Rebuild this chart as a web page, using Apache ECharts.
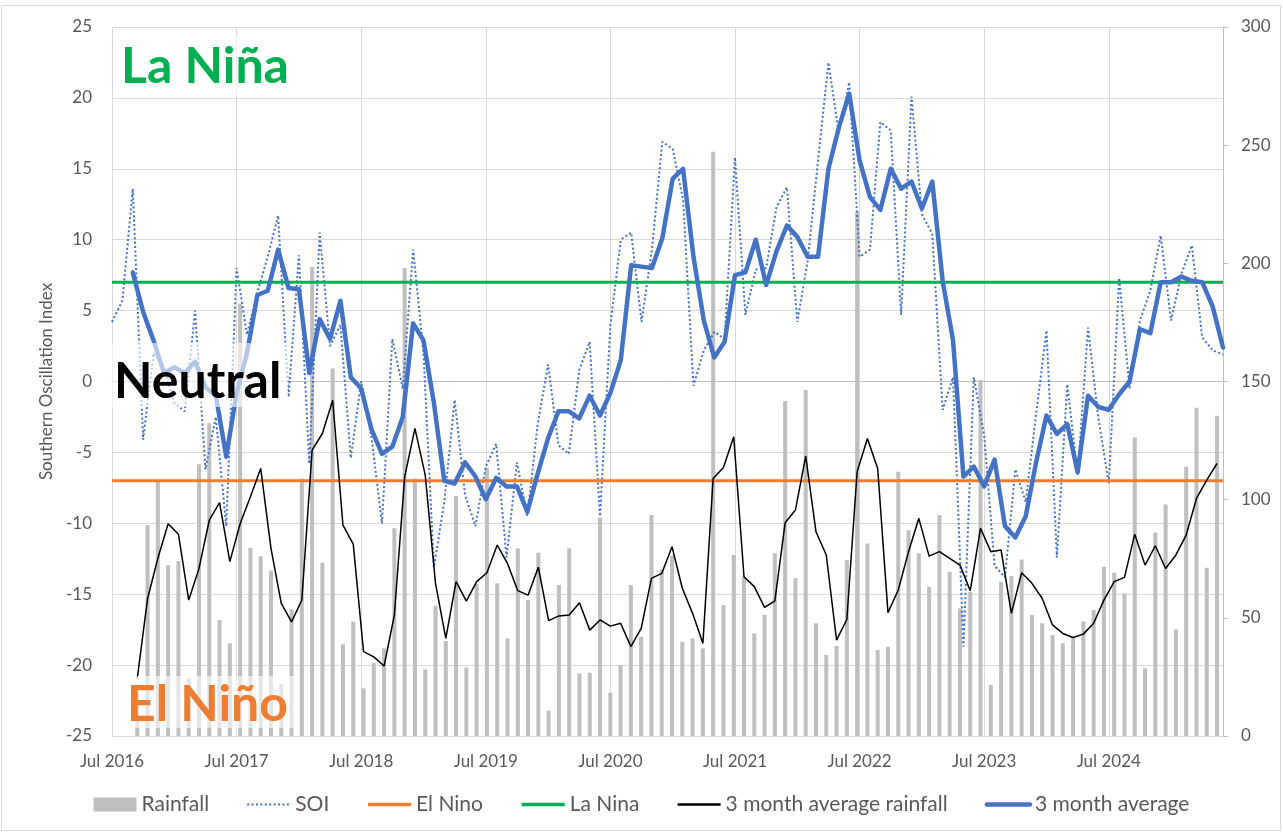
<!DOCTYPE html>
<html>
<head>
<meta charset="utf-8">
<title>Southern Oscillation Index and rainfall</title>
<script src="https://cdn.jsdelivr.net/npm/echarts@6/dist/echarts.min.js"></script>
<style>
  html, body { margin: 0; padding: 0; background: #ffffff; }
  #chart { width: 1283px; height: 833px; }
</style>
</head>
<body>
<div id="chart"></div>
<script>
// Monthly SOI, Jul 2016 - Jun 2025
const soiStart = { year: 2016, month: 6 };   // July (0-based month)
const soiMonthCount = 108;

// Monthly rainfall (mm), Sep 2016 - Jun 2025, on the secondary axis
const rainStart = { year: 2016, month: 8 };  // September
const rainMonthCount = 106;

const monthNames = ['Jan','Feb','Mar','Apr','May','Jun','Jul','Aug','Sep','Oct','Nov','Dec'];

function monthLabels(start, count) {
  const out = [];
  for (let k = 0; k < count; k++) {
    const m = start.month + k;
    out.push(monthNames[m % 12] + ' ' + (start.year + Math.floor(m / 12)));
  }
  return out;
}

const soiMonths = monthLabels(soiStart, soiMonthCount);
const rainMonths = monthLabels(rainStart, rainMonthCount);

const soi = [
  4.2, 5.7, 13.6, -4.1, 2.0, 1.0, -1.5, -2.1, 5.0, -6.2,
  -2.5, -10.2, 8.0, 3.3, 6.3, 8.8, 11.7, -1.1, 8.9, -5.8,
  10.5, 2.5, 4.0, -5.4, 0.0, -4.0, -10.0, 3.0, -0.5, 9.3,
  2.0, -13.1, -8.5, -1.3, -8.0, -10.2, -6.0, -4.4, -12.4, -5.7,
  -9.5, -3.0, 1.2, -4.5, -5.1, 0.8, 2.8, -9.5, 4.0, 10.0,
  10.5, 4.2, 9.3, 16.9, 16.4, 12.8, -0.3, 2.2, 3.5, 3.0,
  15.8, 4.7, 7.9, 8.0, 12.3, 13.7, 4.2, 8.5, 15.6, 22.5,
  17.5, 21.1, 8.8, 9.3, 18.3, 17.7, 4.7, 20.1, 11.8, 10.4,
  -2.0, 0.3, -18.7, 0.3, -3.8, -13.0, -13.8, -6.2, -8.5, -2.3,
  3.6, -12.4, -0.2, -6.6, 3.8, -2.6, -7.2, 7.3, -0.5, 4.3,
  6.4, 10.3, 4.3, 7.6, 9.6, 3.1, 2.2, 1.9
];

const soi3Month = [
  null, null, 7.7, 4.9, 2.9, 0.6, 1.0, 0.6, 1.4, -0.4,
  -1.0, -5.3, -0.8, 2.0, 6.1, 6.4, 9.3, 6.6, 6.5, 0.6,
  4.4, 3.0, 5.7, 0.3, -0.5, -3.4, -5.1, -4.6, -2.5, 4.1,
  2.9, -1.5, -7.0, -7.2, -5.7, -6.7, -8.3, -6.8, -7.4, -7.4,
  -9.2, -6.5, -4.0, -2.1, -2.1, -2.6, -1.0, -2.4, -0.8, 1.5,
  8.2, 8.1, 8.0, 10.1, 14.3, 15.0, 8.8, 4.3, 1.7, 2.8,
  7.5, 7.7, 10.0, 6.8, 9.2, 11.0, 10.2, 8.8, 8.8, 15.0,
  17.9, 20.3, 15.6, 13.0, 12.1, 15.0, 13.6, 14.1, 12.2, 14.1,
  7.1, 2.9, -6.7, -6.0, -7.4, -5.5, -10.2, -11.0, -9.5, -5.7,
  -2.4, -3.7, -3.0, -6.4, -1.0, -1.8, -2.0, -0.9, 0.0, 3.7,
  3.4, 7.0, 7.0, 7.4, 7.1, 7.0, 5.3, 2.4
];

const rainfall = [
  18, 89.3, 107.6, 72.3, 74.0, 24.4, 115, 132.3, 49.1, 39.2,
  183, 79.7, 76.1, 70, 22, 53.6, 109, 198.5, 73.3, 155.5,
  38.8, 48.4, 20.2, 31.0, 37.1, 87.9, 198, 109.0, 28.2, 55.1,
  40.2, 101.5, 29.0, 64.3, 113.6, 64.6, 41.3, 79.4, 57.5, 77.5,
  10.7, 63.9, 79.4, 26.5, 26.8, 92.5, 18.3, 30.0, 63.9, 42.0,
  93.5, 70.5, 76.3, 39.9, 41.3, 37.1, 247.2, 55.4, 76.6, 67.4,
  43.4, 51.2, 77.3, 141.8, 66.7, 146.4, 47.7, 34.3, 38.1, 74.5,
  222, 81.5, 36.4, 37.8, 111.8, 87.1, 77.3, 63.2, 93.5, 69.5,
  54, 61, 150.6, 21.6, 65.3, 67.7, 74.7, 51.2, 47.7, 42.7,
  39.2, 42.0, 48.4, 53.3, 71.6, 69.1, 60.4, 126.3, 28.6, 86.0,
  98.0, 45.1, 113.9, 138.9, 71.2, 135.5
];

const rainfall3Month = [
  24.4, 58.2, 75.2, 89.8, 85.4, 57.5, 70.9, 91.3, 98.7, 73.8,
  89.8, 101.2, 113.2, 79.4, 56.1, 48.3, 57.5, 121.0, 128.0, 142.1,
  89.2, 81.2, 35.7, 33.5, 29.6, 51.2, 109.7, 130.2, 110.4, 64.6,
  41.3, 65.3, 57.1, 65.3, 69.1, 80.8, 73.0, 61.5, 59.6, 71.4,
  48.8, 50.8, 51.2, 56.4, 44.8, 49.1, 46.5, 47.7, 37.8, 45.5,
  66.7, 68.8, 80.1, 62.5, 51.9, 39.2, 109.0, 113.6, 126.6, 67.4,
  63.2, 54.4, 57.2, 90.2, 95.6, 118.4, 86.4, 76.6, 40.6, 49.3,
  111.8, 125.9, 113.2, 52.2, 61.8, 78.0, 92.1, 76.1, 78.0, 75.2,
  72.3, 61.5, 87.9, 78.0, 78.7, 51.9, 69.1, 64.6, 58.2, 47.0,
  43.4, 41.7, 43.1, 47.7, 57.5, 65.3, 67.1, 85.4, 72.3, 80.5,
  70.9, 76.6, 85.0, 100.5, 108.3, 115.3
];

// SOI thresholds
const elNinoThreshold = -7;
const laNinaThreshold = 7;

// Axis tick settings
const soiAxis = { min: -25, max: 25, interval: 5 };
const rainAxis = { min: 0, max: 300, interval: 50 };
const yearLabelEvery = 12;

const FONT = 'Lato, "Open Sans", sans-serif';
const TEXT_GREY = '#595959';
const GRID_GREY = '#D9D9D9';

const chart = echarts.init(document.getElementById('chart'), null, { renderer: 'canvas' });

const rainPoints = rainfall.map((v, j) => [j, v]);
const rainAvgPoints = rainfall3Month.map((v, j) => [j, v]);
const firstMonth = soiMonths[0];
const lastMonth = soiMonths[soiMonths.length - 1];

// legend keys for line series: line only, no marker
const lineKey = (name, width) => ({
  name,
  lineStyle: { width },
  itemStyle: { opacity: 0, color: 'rgba(0,0,0,0)', borderWidth: 0 }
});

const option = {
  animation: false,
  backgroundColor: '#ffffff',
  textStyle: { fontFamily: FONT },
  grid: { left: 112, right: 60, top: 27, bottom: 97, containLabel: false },
  legend: {
    bottom: 13,
    left: 'center',
    itemWidth: 43,
    itemHeight: 14,
    itemGap: 37,
    textStyle: { color: TEXT_GREY, fontSize: 21, fontFamily: FONT },
    data: [
      { name: 'Rainfall', icon: 'rect' },
      lineKey('SOI', 2),
      lineKey('El Nino', 3.5),
      lineKey('La Nina', 3.5),
      lineKey('3 month average rainfall', 2.5),
      lineKey('3 month average', 4.5)
    ]
  },
  xAxis: [
    {
      type: 'category',
      data: soiMonths,
      boundaryGap: false,
      axisLine: { show: true, lineStyle: { color: '#BFBFBF', width: 1 } },
      axisTick: { show: false },
      axisLabel: {
        interval: yearLabelEvery - 1,
        color: TEXT_GREY, fontSize: 17, margin: 17, fontFamily: FONT
      },
      splitLine: { show: true, interval: yearLabelEvery - 1, lineStyle: { color: GRID_GREY, width: 1 } }
    },
    {
      // rainfall months on their own horizontal scale
      type: 'value',
      show: false,
      min: -2.46,
      max: 105.58,
      splitLine: { show: false }
    }
  ],
  yAxis: [
    {
      type: 'value',
      min: soiAxis.min, max: soiAxis.max, interval: soiAxis.interval,
      name: 'Southern Oscillation Index',
      nameLocation: 'middle',
      nameGap: 52,
      nameTextStyle: { color: TEXT_GREY, fontSize: 17, fontFamily: FONT },
      axisLine: { show: false },
      axisTick: { show: false },
      axisLabel: { color: TEXT_GREY, fontSize: 17, margin: 20, fontFamily: FONT },
      splitLine: { show: true, lineStyle: { color: GRID_GREY, width: 1 } }
    },
    {
      type: 'value',
      position: 'right',
      min: rainAxis.min, max: rainAxis.max, interval: rainAxis.interval,
      axisLine: { show: true, lineStyle: { color: '#BFBFBF', width: 1 } },
      axisTick: { show: true, inside: false, length: 5, lineStyle: { color: '#BFBFBF' } },
      axisLabel: { color: TEXT_GREY, fontSize: 17, margin: 18, fontFamily: FONT },
      splitLine: { show: false }
    }
  ],
  series: [
    {
      name: 'Rainfall',
      type: 'bar',
      xAxisIndex: 1,
      yAxisIndex: 1,
      barWidth: 4,
      itemStyle: { color: '#BFBFBF' },
      data: rainPoints,
      z: 1
    },
    {
      name: 'SOI',
      type: 'line',
      xAxisIndex: 0,
      yAxisIndex: 0,
      symbol: 'none',
      lineStyle: { color: '#4472C4', width: 2, type: [2, 2.4] },
      itemStyle: { color: '#4472C4' },
      data: soi,
      z: 2
    },
    {
      name: 'El Nino',
      type: 'line',
      xAxisIndex: 0,
      yAxisIndex: 0,
      symbol: 'none',
      lineStyle: { color: '#ED7D31', width: 3 },
      itemStyle: { color: '#ED7D31' },
      data: [[firstMonth, elNinoThreshold], [lastMonth, elNinoThreshold]],
      z: 3
    },
    {
      name: 'La Nina',
      type: 'line',
      xAxisIndex: 0,
      yAxisIndex: 0,
      symbol: 'none',
      lineStyle: { color: '#00B050', width: 3 },
      itemStyle: { color: '#00B050' },
      data: [[firstMonth, laNinaThreshold], [lastMonth, laNinaThreshold]],
      z: 3
    },
    {
      name: '3 month average rainfall',
      type: 'line',
      xAxisIndex: 1,
      yAxisIndex: 1,
      symbol: 'none',
      lineStyle: { color: '#000000', width: 1.5 },
      itemStyle: { color: '#000000' },
      data: rainAvgPoints,
      z: 4
    },
    {
      name: '3 month average',
      type: 'line',
      xAxisIndex: 0,
      yAxisIndex: 0,
      symbol: 'none',
      connectNulls: false,
      lineStyle: { color: '#4472C4', width: 4.5, join: 'round', cap: 'round' },
      itemStyle: { color: '#4472C4' },
      data: soi3Month,
      z: 5
    }
  ],
  graphic: [
    // outer frame
    {
      type: 'rect', z: 0, silent: true,
      shape: { x: 1.5, y: 5.5, width: 1279, height: 825 },
      style: { fill: 'none', stroke: GRID_GREY, lineWidth: 1 }
    },
    // phase labels sit on translucent white panels
    {
      type: 'rect', z: 100, silent: true,
      shape: { x: 118, y: 36, width: 176, height: 60 },
      style: { fill: 'rgba(255,255,255,0.6)' }
    },
    {
      type: 'text', z: 101, silent: true,
      x: 121, y: 67,
      style: {
        text: 'La Niña', fill: '#00B050',
        font: 'bold 50px ' + FONT, verticalAlign: 'middle', align: 'left'
      }
    },
    {
      type: 'rect', z: 100, silent: true,
      shape: { x: 112, y: 343, width: 176, height: 64 },
      style: { fill: 'rgba(255,255,255,0.6)' }
    },
    {
      type: 'text', z: 101, silent: true,
      x: 114, y: 382,
      style: {
        text: 'Neutral', fill: '#000000',
        font: 'bold 50px ' + FONT, verticalAlign: 'middle', align: 'left'
      }
    },
    {
      type: 'rect', z: 100, silent: true,
      shape: { x: 118, y: 676, width: 176, height: 52 },
      style: { fill: 'rgba(255,255,255,0.6)' }
    },
    {
      type: 'text', z: 101, silent: true,
      x: 127, y: 705,
      style: {
        text: 'El Niño', fill: '#ED7D31',
        font: 'bold 50px ' + FONT, verticalAlign: 'middle', align: 'left'
      }
    }
  ]
};

chart.setOption(option);
</script>
</body>
</html>
